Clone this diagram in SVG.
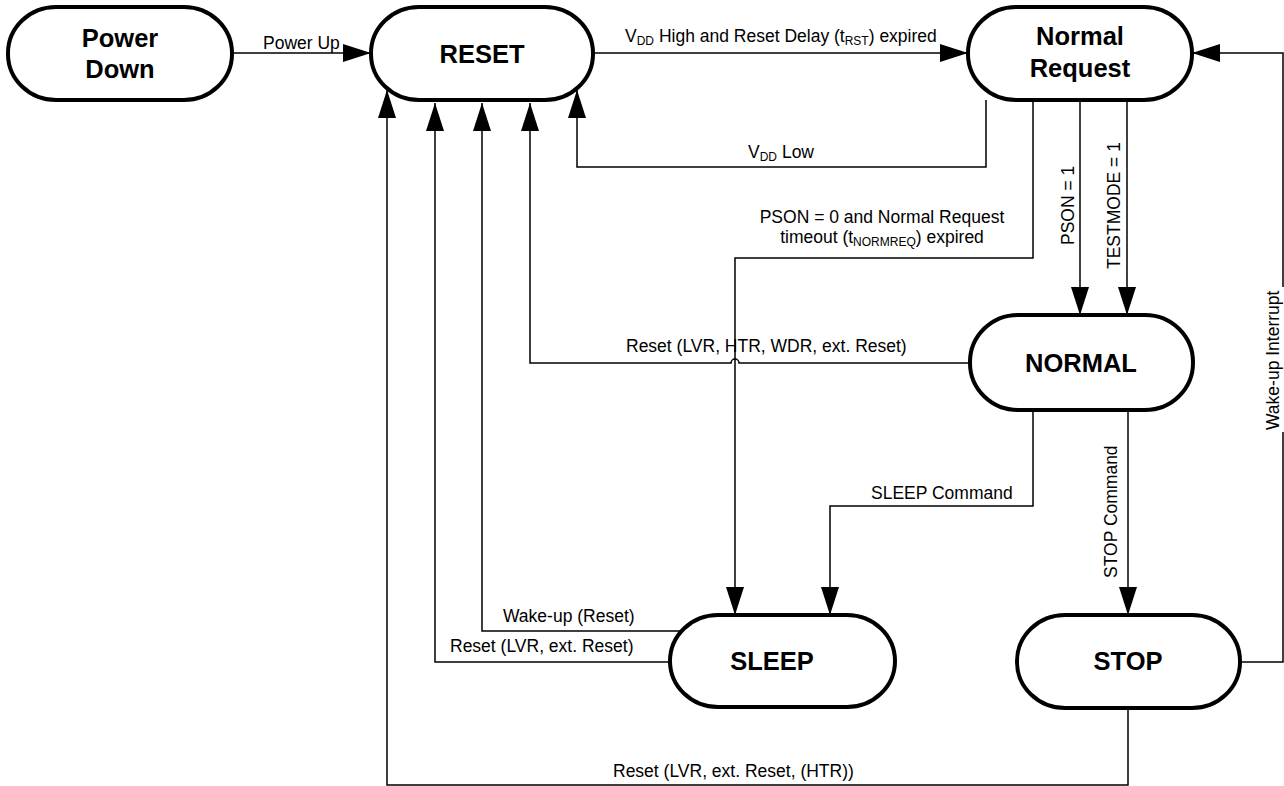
<svg xmlns="http://www.w3.org/2000/svg" width="1284" height="786" viewBox="0 0 1284 786">
<style>
.node rect{fill:#fff;stroke:#000;stroke-width:4}
.nt{font-family:"Liberation Sans",Arial,sans-serif;font-weight:bold;font-size:25.5px;text-anchor:middle;fill:#000}
.lbl{font-family:"Liberation Sans",Arial,sans-serif;font-size:17.5px;fill:#000}
.sub{font-size:12px}
#connectors path{fill:none;stroke:#000;stroke-width:1.5}
</style>
<defs>
<marker id="ah" markerUnits="userSpaceOnUse" markerWidth="28" markerHeight="18" refX="28" refY="9" orient="auto">
<path d="M0,0 L28,9 L0,18 z" fill="#000"/>
</marker>
</defs>
<rect width="1284" height="786" fill="#fff"/>
<g id="connectors">
<path d="M232,53 H371" marker-end="url(#ah)"/>
<path d="M593,53 H968" marker-end="url(#ah)"/>
<path d="M1240,662 H1283 V432 M1283,287 V53 H1192" marker-end="url(#ah)"/>
<path d="M986,100 V167 H577 V90" marker-end="url(#ah)"/>
<path d="M1033,100 V258 H735 V615" marker-end="url(#ah)"/>
<path d="M1080,100 V315" marker-end="url(#ah)"/>
<path d="M1127,100 V315" marker-end="url(#ah)"/>
<path d="M970,363 H739 A4,4 0 0 0 731,363 H530 V103" marker-end="url(#ah)"/>
<path d="M1033,410 V506 H830 V615" marker-end="url(#ah)"/>
<path d="M1128,410 V615" marker-end="url(#ah)"/>
<path d="M682,631 H482 V103" marker-end="url(#ah)"/>
<path d="M670,662 H435 V103" marker-end="url(#ah)"/>
<path d="M1128,708 V785 H387 V90" marker-end="url(#ah)"/>
</g>
<g id="labels">
<text class="lbl" x="263" y="49">Power Up</text>
<text class="lbl" x="625" y="42">V<tspan class="sub" dy="3">DD</tspan><tspan dy="-3"> High and Reset Delay (t</tspan><tspan class="sub" dy="3">RST</tspan><tspan dy="-3">) expired</tspan></text>
<text class="lbl" x="748" y="158">V<tspan class="sub" dy="3">DD</tspan><tspan dy="-3"> Low</tspan></text>
<text class="lbl" x="882" y="223" text-anchor="middle">PSON = 0 and Normal Request</text>
<text class="lbl" x="882" y="243" text-anchor="middle">timeout (t<tspan class="sub" dy="3">NORMREQ</tspan><tspan dy="-3">) expired</tspan></text>
<text class="lbl" x="626" y="352">Reset (LVR, HTR, WDR, ext. Reset)</text>
<text class="lbl" transform="translate(1073.5,245) rotate(-90)">PSON = 1</text>
<text class="lbl" transform="translate(1119.5,269) rotate(-90)">TESTMODE = 1</text>
<text class="lbl" transform="translate(1116.5,578) rotate(-90)">STOP Command</text>
<text class="lbl" transform="translate(1278.5,430) rotate(-90)">Wake-up Interrupt</text>
<text class="lbl" x="871" y="499">SLEEP Command</text>
<text class="lbl" x="503" y="622">Wake-up (Reset)</text>
<text class="lbl" x="450" y="652">Reset (LVR, ext. Reset)</text>
<text class="lbl" x="613" y="777">Reset (LVR, ext. Reset, (HTR))</text>
</g>
<g id="power-down" class="node">
<rect x="8" y="7" width="224" height="93" rx="48" ry="46"/>
<text class="nt" x="120" y="47">Power</text>
<text class="nt" x="120" y="78">Down</text>
</g>
<g id="reset" class="node">
<rect x="371" y="7" width="222" height="93" rx="48" ry="46"/>
<text class="nt" x="482" y="63">RESET</text>
</g>
<g id="normal-request" class="node">
<rect x="968" y="7" width="224" height="93" rx="48" ry="46"/>
<text class="nt" x="1080" y="45">Normal</text>
<text class="nt" x="1080" y="77">Request</text>
</g>
<g id="normal" class="node">
<rect x="970" y="315" width="223" height="95" rx="48" ry="47"/>
<text class="nt" x="1081" y="372">NORMAL</text>
</g>
<g id="sleep" class="node">
<rect x="670" y="615" width="225" height="92" rx="48" ry="46"/>
<text class="nt" x="772" y="670">SLEEP</text>
</g>
<g id="stop" class="node">
<rect x="1017" y="615" width="223" height="93" rx="48" ry="46"/>
<text class="nt" x="1128" y="670">STOP</text>
</g>
</svg>
